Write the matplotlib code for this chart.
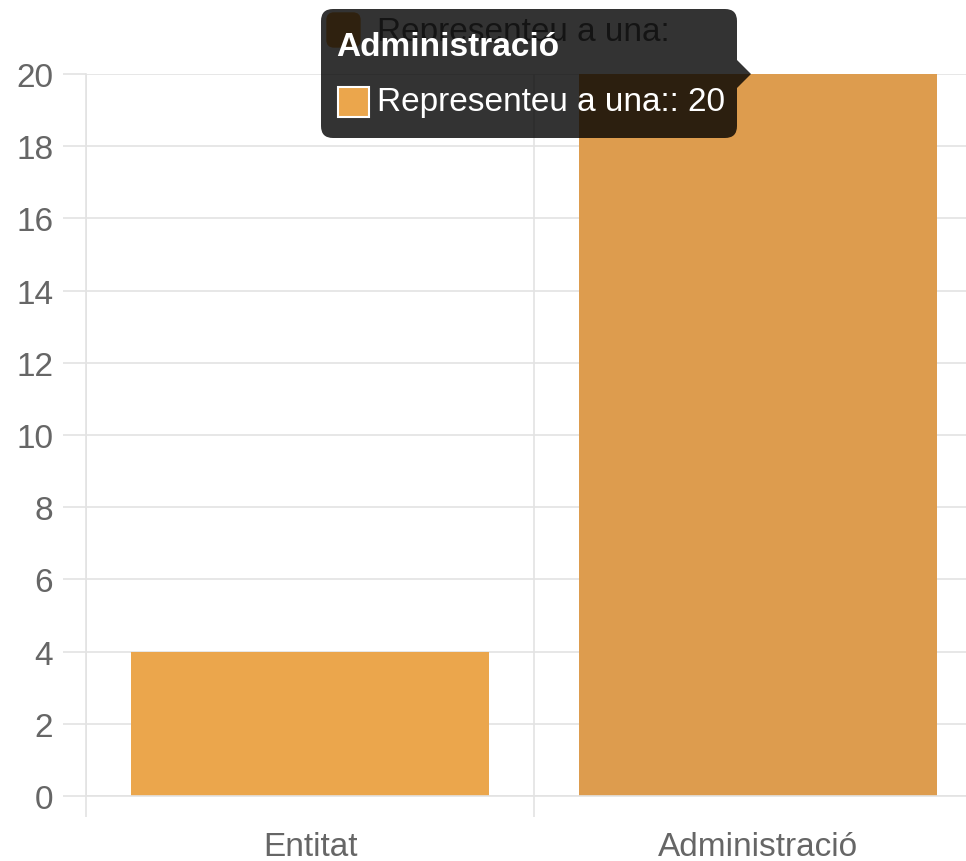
import matplotlib
matplotlib.use("Agg")
import matplotlib.pyplot as plt
from matplotlib.patches import FancyBboxPatch, Polygon, Rectangle

plt.rcParams['font.family'] = ['Liberation Sans', 'DejaVu Sans']

# ---- data ----
categories = ["Entitat", "Administració"]
values = [4, 20]
series_label = "Representeu a una:"
yticks = [0, 2, 4, 6, 8, 10, 12, 14, 16, 18, 20]
bar_colors = ["#EBA64C", "#DD9C4E"]
hover_index = 1

W, H = 966, 862
fig = plt.figure(figsize=(W / 100, H / 100), dpi=100)

left, right, top, bottom = 86, 982, 75, 797
ax = fig.add_axes([left / W, (H - bottom) / H, (right - left) / W, (bottom - top) / H])

grid_c = "#e3e3e3"
text_c = "#666666"

x = list(range(len(categories)))
ax.bar(x, values, width=0.8, color=bar_colors, zorder=2)
ax.set_xlim(-0.5, len(categories) - 0.5)
ax.set_ylim(0, 20)

ax.set_yticks(yticks)
ax.set_yticklabels([str(v) for v in yticks])
ax.yaxis.grid(True, color=grid_c, lw=1.2, zorder=0)
ax.tick_params(axis='y', length=16.5, width=1.2, color=grid_c, pad=7,
               labelsize=24, labelcolor=text_c)

ax.set_xticks(x)
ax.set_xticklabels(categories)
ax.set_xticks([i - 0.5 for i in range(len(categories) + 1)], minor=True)
ax.tick_params(axis='x', which='major', length=0, pad=25, labelsize=24, labelcolor=text_c)
ax.tick_params(axis='x', which='minor', length=15, width=1.2, color=grid_c)
ax.xaxis.grid(True, which='minor', color=grid_c, lw=1.2, zorder=0)

for s in ['top', 'right']:
    ax.spines[s].set_visible(False)
ax.spines['left'].set_color(grid_c)
ax.spines['left'].set_linewidth(1.2)
ax.spines['bottom'].set_color(grid_c)
ax.spines['bottom'].set_linewidth(1.2)
ax.set_axisbelow(True)

# ---- overlay (legend + tooltip) in pixel coordinates ----
ov = fig.add_axes([0, 0, 1, 1], zorder=10)
ov.set_xlim(0, W)
ov.set_ylim(H, 0)
ov.axis('off')
ov.patch.set_visible(False)

# legend (partially hidden behind tooltip, as in the reference)
ov.add_patch(FancyBboxPatch((327, 14), 33, 34, boxstyle="round,pad=0,rounding_size=7",
                            facecolor=bar_colors[0], edgecolor=bar_colors[0], lw=1, zorder=1))
ov.text(377, 33, series_label, fontsize=24, color=text_c, va='center', ha='left', zorder=1)

# tooltip
tip_bg = (0, 0, 0, 0.8)
ov.add_patch(FancyBboxPatch((321, 10), 416, 129, boxstyle="round,pad=0,rounding_size=12",
                            facecolor=tip_bg, edgecolor='none', zorder=5))
ov.add_patch(Polygon([(737, 61), (751, 75), (737, 89)], closed=True,
                     facecolor=tip_bg, edgecolor='none', zorder=5))
ov.text(336, 48, categories[hover_index], fontsize=24, fontweight='bold', color='white',
        va='center', ha='left', zorder=6)
ov.add_patch(Rectangle((338, 88), 31, 30, facecolor=bar_colors[0], edgecolor='white',
                       lw=1.5, zorder=6))
ov.text(377, 102, f"{series_label}: {values[hover_index]}", fontsize=24, color='white',
        va='center', ha='left', zorder=6)

fig.savefig("out.png", dpi=100)
